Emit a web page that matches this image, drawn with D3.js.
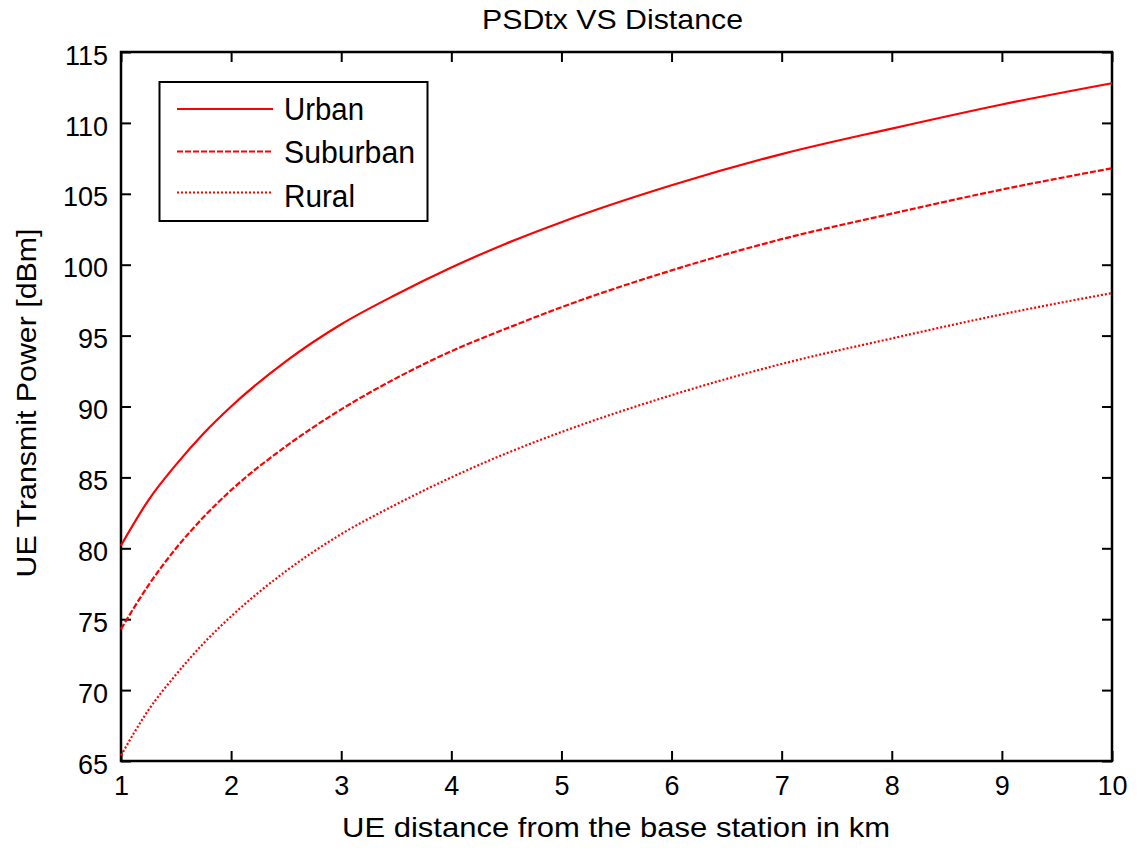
<!DOCTYPE html>
<html><head><meta charset="utf-8">
<script src="https://cdn.jsdelivr.net/npm/d3@7"></script>
<style>body{margin:0;background:#fff}svg{display:block;font-family:"Liberation Sans",Arial,sans-serif}</style>
</head><body><svg id="c" width="1144" height="850"></svg>
<script>
const distances = [1, 1.25, 1.5, 1.75, 2, 2.5, 3, 3.5, 4, 4.5, 5, 6, 7, 8, 9, 10];
const urban    = [80.2, 83.4, 85.9, 88.1, 90.0, 93.2, 95.8, 97.9, 99.8, 101.5, 103.0, 105.6, 107.8, 109.6, 111.3, 112.8];
const suburban = [74.3, 77.4, 80.0, 82.2, 84.1, 87.2, 89.8, 92.0, 93.9, 95.5, 97.0, 99.6, 101.8, 103.6, 105.3, 106.8];
const rural    = [65.4, 68.6, 71.1, 73.3, 75.2, 78.4, 81.0, 83.1, 85.0, 86.7, 88.2, 90.8, 93.0, 94.8, 96.5, 98.0];
const seriesNames = ["Urban", "Suburban", "Rural"];
const xTicks = [1,2,3,4,5,6,7,8,9,10];
const yTicks = [65,70,75,80,85,90,95,100,105,110,115];

const svg = d3.select("#c");
const L = 121, R = 1112, T = 52, B = 761;
const x = d3.scaleLinear().domain([1,10]).range([L,R]);
const y = d3.scaleLinear().domain([65,115]).range([B,T]);

const tl = 10;
const g = svg.append("g");
const ax = (axis, tr) => {
  const a = g.append("g").attr("transform", tr).call(axis);
  a.select(".domain").remove();
  a.selectAll("line").attr("stroke","#000").attr("stroke-width",2);
  a.selectAll("text").attr("fill","#000").attr("font-size",27).attr("font-family","Liberation Sans, Arial, sans-serif");
  return a;
};
ax(d3.axisBottom(x).tickValues(xTicks).tickSize(-tl).tickPadding(15).tickFormat(d3.format("d")), `translate(0,${B})`);
ax(d3.axisTop(x).tickValues(xTicks).tickSize(-tl).tickFormat(""), `translate(0,${T})`);
ax(d3.axisLeft(y).tickValues(yTicks).tickSize(-tl).tickPadding(13).tickFormat(d3.format("d")), `translate(${L},0)`)
  .selectAll("text").attr("dy","0.45em");
ax(d3.axisRight(y).tickValues(yTicks).tickSize(-tl).tickFormat(""), `translate(${R},0)`);

svg.append("rect").attr("x",L).attr("y",T).attr("width",R-L).attr("height",B-T)
  .attr("fill","none").attr("stroke","#000").attr("stroke-width",2.5);

const dashes = ["none", "6,2", "2,2"];
const data = [urban, suburban, rural];
const line = d3.line().x((d,i)=>x(distances[i])).y(d=>y(d)).curve(d3.curveMonotoneX);
data.forEach((s,k)=>{
  svg.append("path").datum(s).attr("d",line).attr("fill","none")
    .attr("stroke","#ff0000").attr("stroke-width",2.2).attr("stroke-dasharray",dashes[k]);
});

// legend
const lg = svg.append("g");
lg.append("rect").attr("x",159.5).attr("y",82).attr("width",268).attr("height",139)
  .attr("fill","#fff").attr("stroke","#000").attr("stroke-width",2);
const rowsY = [109, 151.5, 192.5];
const textBase = [120, 163, 206.5];
const textLen = [80, 131, 71];
seriesNames.forEach((n,k)=>{
  lg.append("line").attr("x1",177).attr("x2",273).attr("y1",rowsY[k]).attr("y2",rowsY[k])
    .attr("stroke","#ff0000").attr("stroke-width",2.2).attr("stroke-dasharray",dashes[k]);
  lg.append("text").attr("x",284).attr("y",textBase[k]).attr("font-size",31)
    .attr("textLength",textLen[k]).attr("lengthAdjust","spacingAndGlyphs").text(n);
});

svg.append("text").attr("x",612.5).attr("y",29).attr("text-anchor","middle").attr("font-size",27.5)
  .attr("textLength",261).attr("lengthAdjust","spacingAndGlyphs").text("PSDtx VS Distance");
svg.append("text").attr("x",616).attr("y",837).attr("text-anchor","middle").attr("font-size",28)
  .attr("textLength",548).attr("lengthAdjust","spacingAndGlyphs").text("UE distance from the base station in km");
svg.append("text").attr("transform","translate(36,403) rotate(-90)").attr("text-anchor","middle").attr("font-size",28)
  .attr("textLength",349).attr("lengthAdjust","spacingAndGlyphs").text("UE Transmit Power [dBm]");
</script></body></html>
